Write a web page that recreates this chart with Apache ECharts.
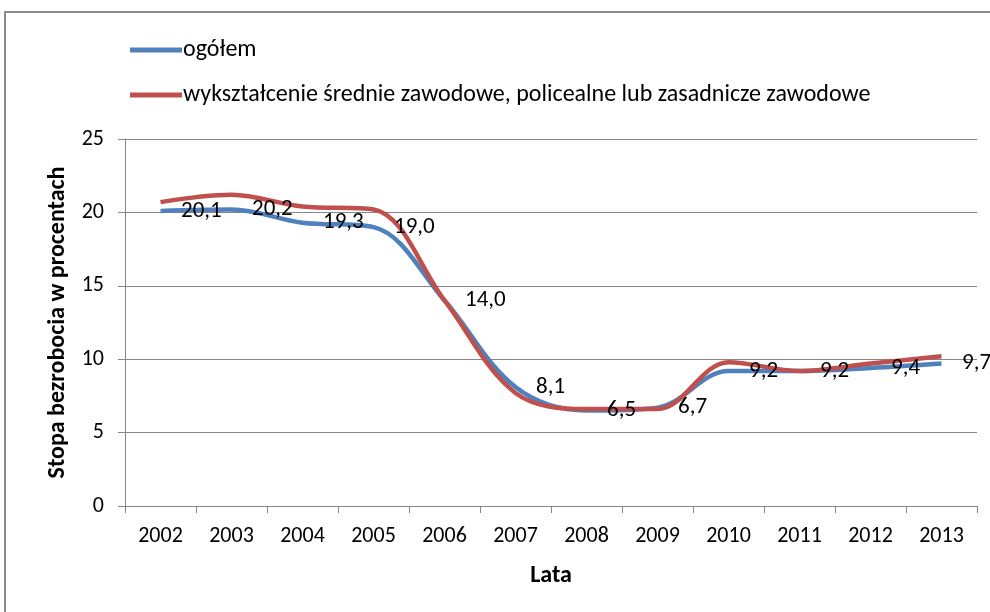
<!DOCTYPE html>
<html><head><meta charset="utf-8">
<script src="https://cdn.jsdelivr.net/npm/echarts@6/dist/echarts.min.js"></script>
<style>html,body{margin:0;padding:0;background:#fff}#c{width:990px;height:612px}</style>
</head><body><div id="c"></div>
<script>
var years = ['2002','2003','2004','2005','2006','2007','2008','2009','2010','2011','2012','2013'];
var ogolem = [20.1, 20.2, 19.3, 19.0, 14.0, 8.1, 6.5, 6.7, 9.2, 9.2, 9.4, 9.7];
var zawodowe = [20.7, 21.2, 20.4, 20.2, 14.0, 7.7, 6.6, 6.6, 9.8, 9.2, 9.7, 10.2];
var seriesNames = ['ogółem', 'wykształcenie średnie zawodowe, policealne lub zasadnicze zawodowe'];
var FONT = "Carlito, Lato, sans-serif";
var chart = echarts.init(document.getElementById('c'));
chart.setOption({
  animation: false,
  textStyle: {fontFamily: FONT},
  graphic: [{type: 'rect', shape: {x: 5, y: 12, width: 1000, height: 700},
    style: {fill: 'none', stroke: '#8c8c8c', lineWidth: 2}}],
  legend: {
    orient: 'vertical', left: 125, top: 33, itemGap: 21,
    itemWidth: 52, itemHeight: 5, icon: 'rect',
    textStyle: {fontSize: 24, color: '#000', fontFamily: FONT, padding: [0,0,0,-4]},
    data: seriesNames
  },
  grid: {left: 125, right: 13, top: 139, bottom: 106},
  xAxis: {
    type: 'category', data: years, boundaryGap: true,
    name: 'Lata', nameLocation: 'middle', nameGap: 58,
    nameTextStyle: {fontSize: 24, fontWeight: 'bold', color: '#000', fontFamily: FONT},
    axisLine: {lineStyle: {color: '#868686', width: 1}},
    axisTick: {show: true, length: 7, alignWithLabel: false, lineStyle: {color: '#868686'}},
    axisLabel: {fontSize: 22, color: '#000', margin: 19, fontFamily: FONT}
  },
  yAxis: {
    type: 'value', min: 0, max: 25, interval: 5,
    name: 'Stopa bezrobocia w procentach', nameLocation: 'middle', nameGap: 55,
    nameTextStyle: {fontSize: 24, fontWeight: 'bold', color: '#000', fontFamily: FONT},
    axisLine: {show: true, lineStyle: {color: '#868686', width: 1}},
    axisTick: {show: true, length: 7, lineStyle: {color: '#868686'}},
    axisLabel: {fontSize: 22, color: '#000', margin: 21, fontFamily: FONT},
    splitLine: {lineStyle: {color: '#868686', width: 1}}
  },
  series: [
    {name: seriesNames[0], type: 'line', data: ogolem, smooth: 0.35, symbol: 'none',
     itemStyle: {color: '#4F81BD'}, lineStyle: {color: '#4F81BD', width: 4.5}, z: 2},
    {name: seriesNames[1], type: 'line', data: zawodowe, smooth: 0.35, symbol: 'none',
     itemStyle: {color: '#C0504D'}, lineStyle: {color: '#C0504D', width: 4.5}, z: 3},
    {name: 'labels', type: 'line', data: ogolem, symbol: 'circle', symbolSize: 1, showSymbol: true,
     lineStyle: {width: 0, color: 'rgba(0,0,0,0)'}, itemStyle: {color: 'rgba(0,0,0,0)', borderWidth: 0},
     silent: true, z: 5,
     label: {show: true, position: 'right', distance: 20, fontSize: 23, color: '#000', opacity: 1, fontFamily: FONT,
       formatter: function(p){ return p.value.toFixed(1).replace('.', ','); }}}
  ]
});
</script></body></html>
